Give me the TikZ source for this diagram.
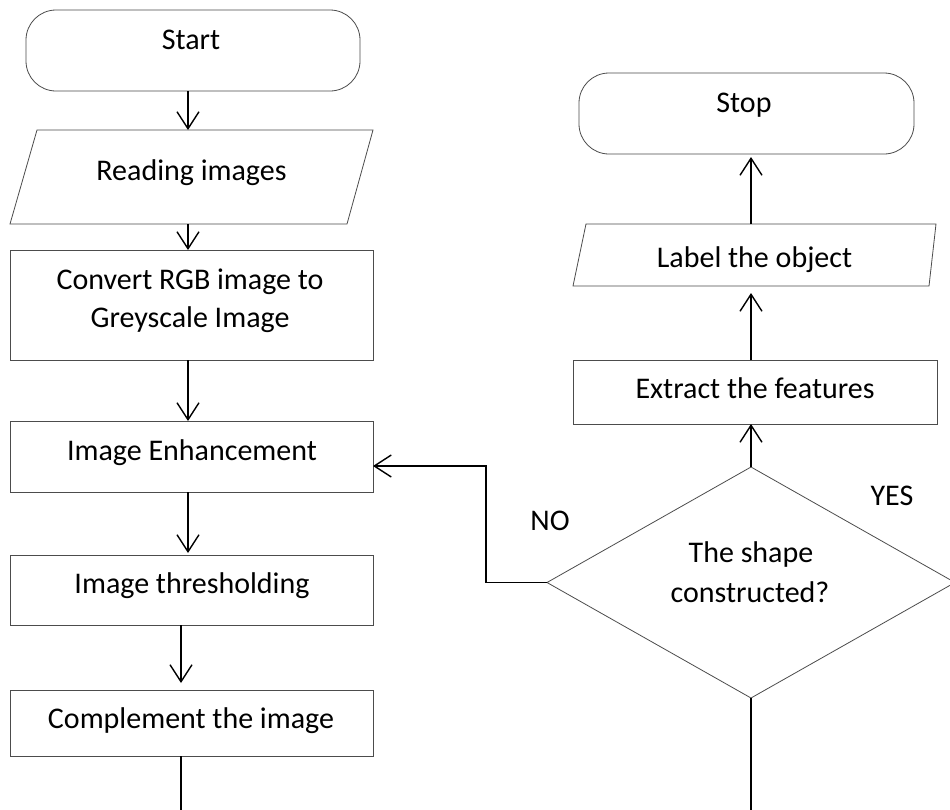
\documentclass[tikz,border=0pt]{standalone}
\usepackage{fontspec}
\setmainfont{Carlito}
\usetikzlibrary{arrows.meta}
\begin{document}
\begin{tikzpicture}[x=1pt,y=-1pt,
  frame/.style={rectangle, inner sep=0pt, outer sep=0pt},
  outline/.style={draw=black!70, line width=0.8pt},
  procbox/.style={frame, outline},
  terminal/.style={frame, outline, rounded corners=30pt},
  txt/.style={font=\fontsize{30}{36}\selectfont, anchor=base, inner sep=0pt},
  flow/.style={line width=1.4pt, -{Straight Barb[length=17pt,width=22pt]}},
  plainline/.style={line width=1.4pt},
]
\useasboundingbox[fill=white] (0,0) rectangle (950,809);

% column guides for the vertical connectors
\coordinate (colA) at (188,0);
\coordinate (colB) at (181,0);
\coordinate (colR) at (751,0);
\coordinate (loopX) at (486,0);
\coordinate (loopY) at (0,466);

% left column
\node[terminal, minimum width=334pt, minimum height=81pt] (start) at (193,50.5) {};
\node[frame, minimum width=363pt, minimum height=94pt] (read) at (191.5,177) {};
\draw[outline] ([xshift=27pt]read.north west) -- (read.north east)
  -- ([xshift=-26pt]read.south east) -- (read.south west) -- cycle;
\node[procbox, minimum width=363pt, minimum height=110pt] (conv) at (191.5,305) {};
\node[procbox, minimum width=363pt, minimum height=71pt] (enh) at (191.5,456.5) {};
\node[procbox, minimum width=363pt, minimum height=70pt] (thr) at (191.5,590) {};
\node[procbox, minimum width=363pt, minimum height=66pt] (comp) at (191.5,723) {};

% right column
\node[terminal, minimum width=335pt, minimum height=81pt] (stop) at (746.5,113.5) {};
\node[frame, minimum width=363pt, minimum height=62pt] (lab) at (754.5,255) {};
\draw[outline] ([xshift=13pt]lab.north west) -- (lab.north east)
  -- ([xshift=-7pt]lab.south east) -- (lab.south west) -- cycle;
\node[procbox, minimum width=364pt, minimum height=64pt] (ext) at (755,392) {};
\node[frame, minimum width=408pt, minimum height=231pt] (dia) at (751,582.5) {};
\draw[outline] (dia.north) -- (dia.east) -- (dia.south) -- (dia.west) -- cycle;

% texts
\node[txt] (tStart) at (191,49) {Start};
\node[txt] (tRead) at (191.5,180) {Reading images};
\node[txt] (tConvA) at (190,289) {Convert RGB image to};
\node[txt] (tConvB) at (190,327) {Greyscale Image};
\node[txt] (tEnh) at (192,460) {Image Enhancement};
\node[txt] (tThr) at (192,593) {Image thresholding};
\node[txt] (tComp) at (191,728) {Complement the image};
\node[txt] (tStop) at (744,112) {Stop};
\node[txt] (tLab) at (754.5,267) {Label the object};
\node[txt] (tExt) at (755,398) {Extract the features};
\node[txt] (tDiaA) at (751,562) {The shape};
\node[txt] (tDiaB) at (750,602) {constructed?};
\node[txt] (tYes) at (892,505) {YES};
\node[txt] (tNo) at (550,530) {NO};

% connectors, left column
\draw[flow] (start.south -| colA) -- (read.north -| colA);
\draw[flow] (read.south -| colA) -- (conv.north -| colA);
\draw[flow] (conv.south -| colA) -- (enh.north -| colA);
\draw[flow] (enh.south -| colA) -- ([yshift=2pt]thr.north -| colA);
\draw[flow, shorten >=7pt] (thr.south -| colB) -- (comp.north -| colB);
\coordinate (leftEnd) at (181,812);
\draw[plainline] (comp.south -| colB) -- (leftEnd);

% connectors, right column
\draw[flow] (lab.north -| colR) -- ([yshift=-3pt]stop.south -| colR);
\draw[flow, shorten >=7pt] (ext.north -| colR) -- (lab.south -| colR);
\draw[flow] (dia.north) -- (ext.south -| colR);
\coordinate (rightEnd) at (751,812);
\draw[plainline] (dia.south) -- (rightEnd);

% NO branch back to the enhancement step
\draw[flow] (dia.west) -- (dia.west -| loopX) -- (loopX |- loopY) -- (enh.east |- loopY);
\end{tikzpicture}
\end{document}
